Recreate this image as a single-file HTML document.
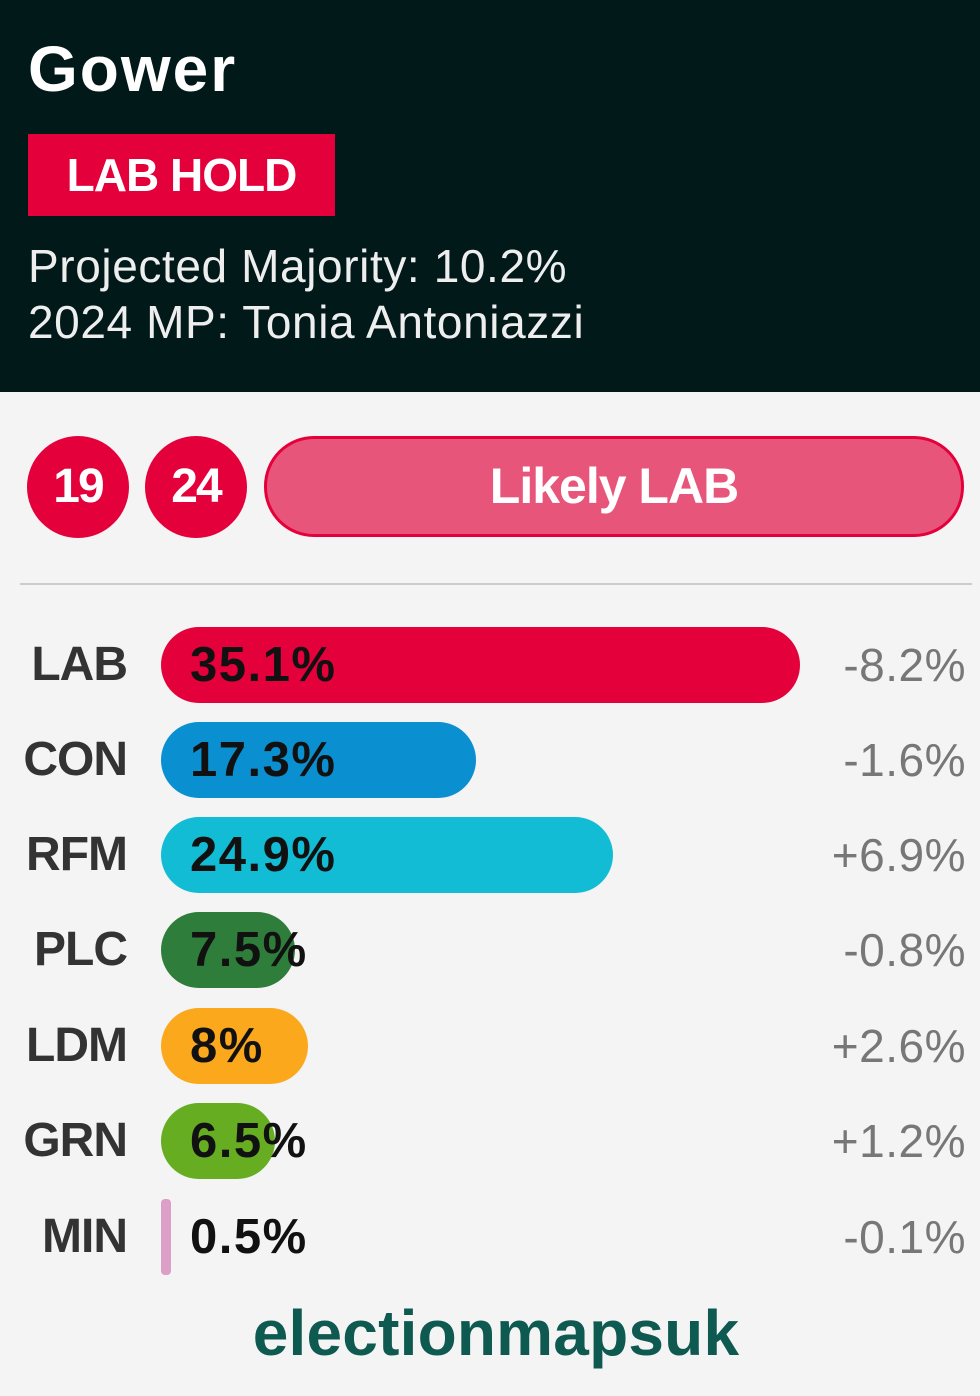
<!DOCTYPE html>
<html><head><meta charset="utf-8"><style>
*{margin:0;padding:0;box-sizing:border-box}
body{width:980px;height:1396px;background:#f4f4f4;font-family:"Liberation Sans",sans-serif;position:relative;overflow:hidden}
.hdr{position:absolute;left:0;top:0;width:980px;height:392px;background:#02191a;color:#fff}
.title{position:absolute;left:28px;top:32px;font-size:64px;font-weight:bold;letter-spacing:2px}
.hold{position:absolute;left:28px;top:134px;width:307px;height:82px;background:#e4003b;color:#fff;font-size:46px;font-weight:bold;text-align:center;line-height:82px;letter-spacing:-1px}
.info{position:absolute;left:28px;font-size:46px;color:#eee;letter-spacing:0.6px}
.circ{position:absolute;top:436px;width:102px;height:102px;border-radius:51px;background:#e4003b;color:#fff;font-size:48px;font-weight:bold;text-align:center;line-height:102px;letter-spacing:-2px}
.pill{position:absolute;left:264px;top:436px;width:700px;height:101px;border-radius:50px;background:#e8557a;border:3px solid #e4003b;color:#fff;font-size:50px;font-weight:bold;text-align:center;line-height:95px;letter-spacing:-1px}
.line{position:absolute;left:20px;top:583px;width:952px;height:2px;background:#ccc}
.row{position:absolute;left:0;width:980px;height:76px}
.lab{position:absolute;right:853px;top:0;line-height:76px;font-size:48px;font-weight:bold;color:#333;letter-spacing:-1px}
.bar{position:absolute;left:161px;top:0;height:76px;border-radius:38px}
.val{position:absolute;left:190px;top:0;line-height:76px;font-size:49px;font-weight:bold;color:#111;letter-spacing:1.5px}
.chg{position:absolute;right:14px;top:0;line-height:76px;font-size:46px;color:#777;letter-spacing:0.5px}
.foot{position:absolute;left:0;width:992px;top:1296px;text-align:center;font-size:64px;font-weight:bold;color:#0e5a50;letter-spacing:0.2px}
</style></head><body>
<div class="hdr">
<div class="title">Gower</div>
<div class="hold">LAB HOLD</div>
<div class="info" style="top:239px">Projected Majority: 10.2%</div>
<div class="info" style="top:295px">2024 MP: Tonia Antoniazzi</div>
</div>
<div class="circ" style="left:27px">19</div>
<div class="circ" style="left:145px">24</div>
<div class="pill">Likely LAB</div>
<div class="line"></div>
<div class="row" style="top:627px"><div class="lab">LAB</div><div class="bar" style="width:639px;background:#e4003b"></div><div class="val">35.1%</div><div class="chg">-8.2%</div></div>
<div class="row" style="top:722px"><div class="lab">CON</div><div class="bar" style="width:315px;background:#0a8fd0"></div><div class="val">17.3%</div><div class="chg">-1.6%</div></div>
<div class="row" style="top:817px"><div class="lab">RFM</div><div class="bar" style="width:452px;background:#12bcd4"></div><div class="val">24.9%</div><div class="chg">+6.9%</div></div>
<div class="row" style="top:912px"><div class="lab">PLC</div><div class="bar" style="width:134px;background:#2f7d3a"></div><div class="val">7.5%</div><div class="chg">-0.8%</div></div>
<div class="row" style="top:1008px"><div class="lab">LDM</div><div class="bar" style="width:147px;background:#fba81d"></div><div class="val">8%</div><div class="chg">+2.6%</div></div>
<div class="row" style="top:1103px"><div class="lab">GRN</div><div class="bar" style="width:114px;background:#66ad22"></div><div class="val">6.5%</div><div class="chg">+1.2%</div></div>
<div class="row" style="top:1199px"><div class="lab">MIN</div><div class="bar" style="width:10px;border-radius:4px;background:#dca0c8"></div><div class="val">0.5%</div><div class="chg">-0.1%</div></div>
<div class="foot">electionmapsuk</div>
</body></html>
